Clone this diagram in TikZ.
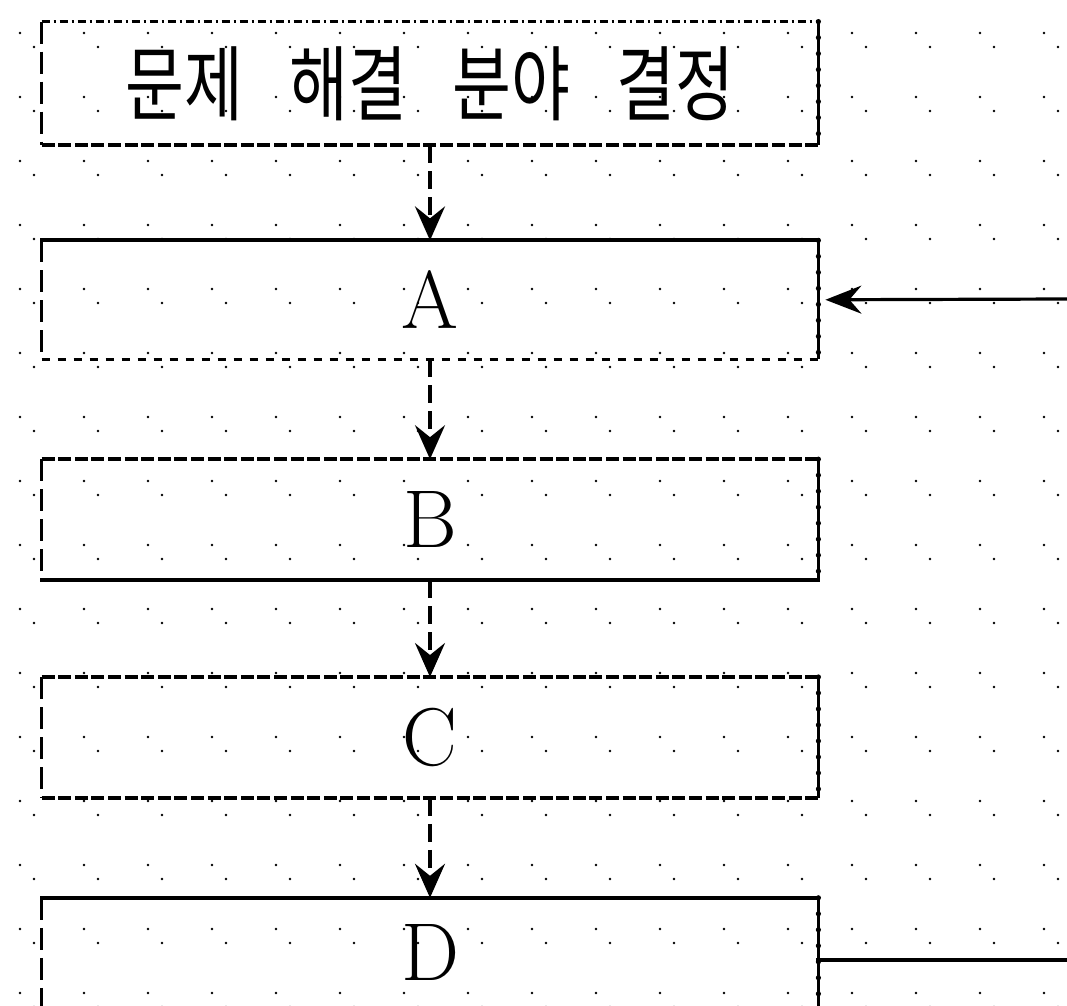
\documentclass[tikz,border=0pt]{standalone}
\usepackage{fontspec}
\usepackage{tikz}
\newfontfamily\kr[FakeStretch=0.78,WordSpace=3.2]{Noto Sans CJK KR}
\usetikzlibrary{arrows.meta, positioning}
\tikzstyle{stepbox} = [minimum width=388pt, inner sep=0pt, font=\fontsize{41}{41}\selectfont]
\tikzstyle{leftside} = [line width=1.8pt, dash pattern=on 11pt off 4pt]
\tikzstyle{rightside} = [line width=1.4pt, postaction={draw, line width=2.6pt, line cap=round, dash pattern=on 0pt off 8pt}]
\tikzstyle{solidside} = [line width=2pt, line cap=rect]
\tikzstyle{dashside} = [line width=2pt, dash pattern=on 6.5pt off 1.8pt]
\tikzstyle{thinside} = [line width=1.5pt, dash pattern=on 4pt off 4pt]
\tikzstyle{dotside} = [line width=1.2pt, dash pattern=on 4pt off 2pt on 1pt off 2pt]
\tikzstyle{flow} = [line width=1.8pt, dash pattern=on 9pt off 4pt, -{Stealth[length=17pt,width=15pt,inset=6pt]}]
\tikzstyle{feedback} = [line width=1.6pt, -{Stealth[length=18pt,width=14pt,inset=6pt]}]

\begin{document}
\begin{tikzpicture}[x=0.5pt, y=-0.5pt]
	\useasboundingbox (0,0) rectangle (1067,1006);
	% dotted paper
	\foreach \i in {0,...,16}
		\foreach \j in {0,...,15} {
			\fill (20+64*\i,33+64*\j) circle (0.65pt);
			\fill (34+64*\i,47+64*\j) circle (0.65pt);
		}
	\node [stepbox, minimum height=61.5pt] (goal) at (430,83.5) {\kr 문제 해결 분야 결정};
	\node [stepbox, minimum height=59pt, below=47.5pt of goal] (a) {A};
	\node [stepbox, minimum height=60pt, below=50pt of a] (b) {B};
	\node [stepbox, minimum height=60pt, below=48.5pt of b] (c) {C};
	\node [stepbox, minimum height=54.5pt, below=50pt of c] (d) {D};
	\foreach \n in {goal,a,b,c,d} {
		\draw[leftside] (\n.north west) -- (\n.south west);
		\draw[rightside] (\n.north east) -- (\n.south east);
	}
	\draw[dotside] (goal.north west) -- (goal.north east);
	\draw[dashside] (goal.south west) -- (goal.south east);
	\draw[solidside] (a.north west) -- (a.north east);
	\draw[thinside] (a.south west) -- (a.south east);
	\draw[dashside] (b.north west) -- (b.north east);
	\draw[solidside] (b.south west) -- (b.south east);
	\draw[dashside] (c.north west) -- (c.north east);
	\draw[dashside] (c.south west) -- (c.south east);
	\draw[solidside] (d.north west) -- (d.north east);
	\draw[dotside] (d.south west) -- (d.south east);
	% steps
	\foreach \u/\v in {goal/a, a/b, b/c, c/d}
		\draw[flow] (\u.south) -- (\v.north);
	% loop back
	\coordinate (loopin) at (1067,299);
	\coordinate (loopout) at (1067,960);
	\draw[feedback, shorten >=3.5pt] (loopin) -- (a.east);
	\draw[solidside] (d.east |- loopout) -- (loopout);
\end{tikzpicture}
\end{document}
